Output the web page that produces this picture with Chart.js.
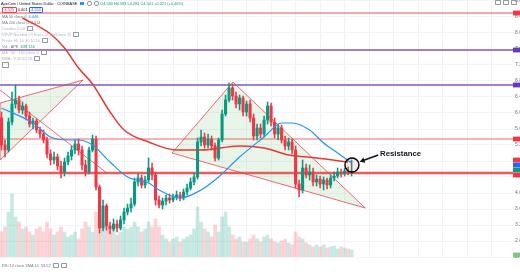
<!DOCTYPE html>
<html><head><meta charset="utf-8">
<script src="https://cdn.jsdelivr.net/npm/chart.js@4.4.1/dist/chart.umd.min.js"></script>
<style>
html,body{margin:0;padding:0;background:#fff;width:520px;height:272px;overflow:hidden;}
#wrap{position:relative;width:520px;height:272px;}
canvas{position:absolute;left:0;top:0;}
.t{position:absolute;white-space:nowrap;font-family:"Liberation Sans",Arial,sans-serif;font-size:3.9px;line-height:5px;color:#787b86;}
.lt{color:#b2b5be;}
.ic{display:inline-block;width:4px;height:3px;border:0.6px solid #9598a1;border-radius:0.8px;margin-left:2px;vertical-align:middle;}
.bx{display:inline-block;border:0.6px solid;border-radius:1px;padding:0 1.5px;line-height:4.6px;}
</style></head><body>
<div id="wrap">
<canvas id="c" width="520" height="272"></canvas>
<div class="t" style="left:1px;top:0.5px;color:#131722;">ApeCoin / United States Dollar · COINBASE <span style="display:inline-block;width:3.5px;height:3.5px;background:#2196f3;margin-left:2px;vertical-align:middle"></span> <span class="ic" style="width:3px;border-radius:2px"></span><span class="ic" style="width:3px;border-radius:2px"></span> <span style="color:#089981">O4.530 H4.583 L4.281 C4.501 +0.021 (+0.46%)</span></div>
<div class="t" style="left:2px;top:6.5px;"><span class="bx" style="border-color:#f23645;color:#f23645">4.525</span> <span style="color:#131722">0.001</span> <span class="bx" style="border-color:#2962ff;color:#2962ff">4.550</span></div>
<div class="t" style="left:2px;top:13.5px;">MA 50 close 0 &nbsp;<span style="color:#2196f3">4.448</span></div>
<div class="t" style="left:2px;top:19.8px;">MA 200 close 0 &nbsp;<span style="color:#f23645">4.514</span></div>
<div class="t lt" style="left:2px;top:25.8px;">Candles 0.03<span class="ic"></span></div>
<div class="t lt" style="left:2px;top:31.8px;">VRVP Number Of Rows 24 Up/Down 70<span class="ic"></span></div>
<div class="t lt" style="left:2px;top:37.5px;">Pivots HL 10 10 10 10<span class="ic"></span></div>
<div class="t" style="left:2px;top:43.5px;">Vol · APE &nbsp;<span style="color:#089981">439.724</span></div>
<div class="t lt" style="left:2px;top:49.8px;">MA · 50 · 100 close 0<span class="ic"></span></div>
<div class="t lt" style="left:2px;top:55.8px;">EMAs 9 26 52 26<span class="ic"></span></div>
<div class="t" style="left:2px;top:62px;"><span class="ic" style="margin-left:0;width:5px;height:4px"></span></div>
<div class="t" style="left:2px;top:263px;">RSI 14 close SMA 14 &nbsp;<span style="color:#7e57c2">53.52</span><span class="ic"></span><span class="ic"></span></div>
<div class="t" style="left:495px;top:0px;color:#9598a1;"><span class="ic" style="margin-left:0"></span><span class="ic"></span><span class="ic"></span></div>
<div class="t" style="left:380px;top:148.5px;font-size:7.8px;line-height:9px;font-weight:bold;color:#131722;">Resistance</div>
</div>
<script>
// ---- data (daily candles, APE/USD) ----
const opens = [5.875,5.20,5.075,5.775,6.225,6.325,6.075,6.175,5.925,5.725,
5.80,5.575,5.475,5.325,4.975,4.825,4.90,4.675,4.525,4.775,
4.925,5.075,5.225,5.075,4.70,4.525,5.075,5.35,4.15,3.125,
3.675,3.175,3.10,3.225,3.125,3.325,3.525,3.625,3.725,4.275,
4.375,4.20,4.325,4.625,4.45,3.825,3.70,3.80,3.875,3.825,
3.90,3.95,3.875,4.025,4.125,4.275,4.40,5.275,5.40,5.20,
5.35,5.175,4.875,5.325,5.975,6.325,6.625,6.425,6.225,6.375,
6.025,6.225,5.875,5.425,5.625,5.475,5.825,6.175,5.775,5.475,
5.625,5.325,5.175,5.275,5.075,4.225,4.075,4.625,4.45,4.525,
4.275,4.35,4.225,4.325,4.20,4.375,4.425,4.525,4.475,4.55,
4.50];
const highs = [6.025,5.325,5.875,6.525,6.70,6.425,6.275,6.225,6.025,5.875,
5.85,5.65,5.575,5.40,5.075,5.025,4.975,4.80,4.875,5.025,
5.175,5.325,5.35,5.175,4.825,5.15,5.45,5.425,4.20,3.825,
3.725,3.275,3.35,3.325,3.425,3.625,3.725,3.875,4.375,4.475,
4.45,4.425,4.875,4.75,4.525,3.925,3.875,3.95,3.975,3.975,
4.05,4.025,4.10,4.225,4.375,4.50,5.375,5.575,5.50,5.475,
5.425,5.25,5.375,6.075,6.45,6.75,6.725,6.525,6.45,6.425,
6.30,6.325,5.975,5.725,5.725,5.925,6.275,6.25,5.875,5.725,
5.70,5.425,5.375,5.35,5.175,4.325,4.825,4.725,4.70,4.625,
4.45,4.425,4.40,4.375,4.45,4.525,4.625,4.60,4.625,4.65,
4.825];
const lows = [5.075,4.90,5.025,5.70,6.125,6.00,5.975,5.825,5.65,5.60,
5.50,5.375,5.25,4.875,4.70,4.725,4.575,4.375,4.425,4.70,
4.825,4.975,4.95,4.575,4.425,4.475,5.025,4.075,3.00,3.05,
3.075,2.975,3.05,3.025,3.075,3.225,3.45,3.525,3.675,4.175,
4.125,4.125,4.275,4.325,3.70,3.625,3.60,3.70,3.75,3.775,
3.825,3.80,3.825,3.95,4.075,4.20,4.35,5.175,5.125,5.125,
5.075,4.80,4.825,5.275,5.925,6.275,6.325,6.125,6.075,5.925,
5.925,5.775,5.325,5.325,5.375,5.40,5.725,5.675,5.375,5.325,
5.25,5.075,5.075,4.975,4.125,3.90,4.00,4.375,4.325,4.175,
4.175,4.125,4.075,4.10,4.125,4.30,4.375,4.40,4.425,4.45,
4.425];
const closes = [5.20,5.075,5.775,6.225,6.325,6.075,6.175,5.925,5.725,5.80,
5.575,5.475,5.325,4.975,4.825,4.90,4.675,4.525,4.775,4.925,
5.075,5.225,5.075,4.70,4.525,5.075,5.35,4.15,3.125,3.675,
3.175,3.10,3.225,3.125,3.325,3.525,3.625,3.725,4.275,4.375,
4.20,4.325,4.625,4.45,3.825,3.70,3.80,3.875,3.825,3.90,
3.95,3.875,4.025,4.125,4.275,4.40,5.275,5.40,5.20,5.35,
5.175,4.875,5.325,5.975,6.325,6.625,6.425,6.225,6.375,6.025,
6.225,5.875,5.425,5.625,5.475,5.825,6.175,5.775,5.475,5.625,
5.325,5.175,5.275,5.075,4.225,4.075,4.625,4.45,4.525,4.275,
4.35,4.225,4.325,4.20,4.375,4.425,4.525,4.475,4.55,4.50,
4.525];
const volumesK = [1250,1500,2250,3150,2000,1750,1400,1500,1250,1100,
1400,1500,1250,1750,1400,1100,1250,1500,1250,1000,
1100,1250,900,1400,1750,1500,1250,2250,2000,1750,
1500,1250,1400,1100,1250,1500,1400,1500,1750,1500,
1250,1400,1750,1500,1900,1500,1100,900,750,900,
1000,750,900,1000,1100,1400,2500,1750,1400,1250,
1000,1600,1250,2000,2250,1500,1100,900,1000,750,
750,900,1100,900,750,1000,1100,900,750,700,
800,900,700,600,1250,1000,900,700,600,500,
600,500,600,450,500,550,400,500,450,400,
350];
// moving averages read at anchor days [dayIndex, value]
const ma50 = [[0,6.125],[9,5.75],[14,5.40],[19,5.325],[22,5.325],[26,5.20],[31,4.775],[36,4.40],[42,4.25],[45,4.075],[51,3.875],[57,4.075],[62,4.40],[68,4.90],[75,5.40],[80,5.75],[83,5.75],[88,5.575],[92,5.25],[96,5.00],[100,4.75]];
const ma200 = [[6,8.375],[14,7.975],[18,7.625],[22,7.125],[26,6.725],[28,6.45],[31,6.025],[35,5.575],[42,5.275],[50,5.075],[57,5.075],[68,5.175],[75,5.125],[82,4.95],[90,4.875],[99,4.775]];
// RSI pane (only its top edge is visible)
const rsi = [[54,62],[55,70],[56,78.5],[57,76],[58,74.5],[59,78],[60,73],[61,65],[62,70],[63,73],[64,75.5],[65,76],[66,72],[67,66]];
// horizontal levels
const levels = [8.50, 7.575, 6.70, 5.35, 4.50];
// drawn patterns [dayIndex, price]
const leftTriangle = [[-0.43,6.25],[23.3,6.825],[-0.43,4.825],[-0.43,6.25]];
const trendLine = [[-0.43,6.575],[30.1,4.50]];
const bigTriangle = [[48.7,5.00],[66.1,6.775],[103.9,3.625],[48.7,5.00]];
const resistancePoint = [100.1, 4.70];
const arrowFrom = [107.6, 4.95];
const arrowTo = [102.3, 4.78];
const axisTags = [8.50, 7.575, 6.70, 5.35, 4.825, 4.70, 4.575, 4.45, 2.45];

const X_MIN = -0.43, X_MAX = 146.1;
const UP = '#089981', DN = '#f23645';
const days = opens.map((_, i) => i);
const isUp = days.map(i => closes[i] >= opens[i]);
const pts = arr => arr.map(p => ({x: p[0], y: p[1]}));

const datasets = [];
datasets.push({type:'bar', label:'Vol', yAxisID:'v', order:20, grouped:false, barThickness:3,
  data: days.map(i => ({x:i, y:volumesK[i]})),
  backgroundColor: days.map(i => isUp[i] ? 'rgba(8,153,129,0.22)' : 'rgba(242,54,69,0.22)')});
const levelColors = ['#f28b8b','#7e57c2','#7e57c2','#f06a6a','#f05a5a'];
const levelWidths = [1.4,1.4,1.4,1.2,2.4];
levels.forEach((L, k) => datasets.push({type:'line', order:15, data:[{x:X_MIN,y:L},{x:X_MAX,y:L}],
  borderColor: levelColors[k], borderWidth: levelWidths[k], pointRadius:0}));
[leftTriangle, bigTriangle].forEach(tri => datasets.push({type:'line', order:12, data: pts(tri),
  borderColor:'rgba(242,54,69,0.75)', borderWidth:1, pointRadius:0, fill:'shape', backgroundColor:'rgba(76,175,80,0.13)', tension:0}));
datasets.push({type:'line', order:12, data: pts(trendLine), borderColor:'rgba(242,54,69,0.75)', borderWidth:1, pointRadius:0});
datasets.push({type:'bar', order:6, grouped:false, barThickness:0.9,
  data: days.map(i => ({x:i, y:[lows[i], highs[i]]})),
  backgroundColor: days.map(i => isUp[i] ? UP : DN)});
datasets.push({type:'bar', order:5, grouped:false, barThickness:2.4, minBarLength:1,
  data: days.map(i => ({x:i, y:[opens[i], closes[i]]})),
  backgroundColor: days.map(i => isUp[i] ? UP : DN)});
datasets.push({type:'line', order:3, data: pts(ma50), borderColor:'#2196f3', borderWidth:1.2, pointRadius:0, cubicInterpolationMode:'monotone'});
datasets.push({type:'line', order:3, data: pts(ma200), borderColor:'#e53935', borderWidth:1.5, pointRadius:0, cubicInterpolationMode:'monotone'});
datasets.push({type:'line', order:2, yAxisID:'r', clip:false, data: pts(rsi), borderColor:'#7e57c2', borderWidth:1, pointRadius:0, tension:0.3});
datasets.push({type:'line', order:1, showLine:false, data:[{x:resistancePoint[0], y:resistancePoint[1]}],
  pointRadius:7, pointBorderColor:'#000', pointBorderWidth:1.4, pointBackgroundColor:'rgba(242,54,69,0.12)'});

const tagColors = ['#f23645','#673ab7','#673ab7','#f23645','#f23645','#2962ff','#089981','#f23645','#81c784'];
const overlay = {
  id:'overlay',
  afterDraw(chart){
    const {ctx, scales:{x, y}} = chart;
    ctx.save();
    const x1 = x.getPixelForValue(arrowFrom[0]), y1 = y.getPixelForValue(arrowFrom[1]);
    const x2 = x.getPixelForValue(arrowTo[0]), y2 = y.getPixelForValue(arrowTo[1]);
    const ang = Math.atan2(y2-y1, x2-x1);
    ctx.strokeStyle = '#131722'; ctx.fillStyle = '#131722'; ctx.lineWidth = 1.6;
    ctx.beginPath(); ctx.moveTo(x1,y1); ctx.lineTo(x2 - 3*Math.cos(ang), y2 - 3*Math.sin(ang)); ctx.stroke();
    ctx.beginPath(); ctx.moveTo(x2,y2);
    ctx.lineTo(x2 - 5*Math.cos(ang) + 2.8*Math.sin(ang), y2 - 5*Math.sin(ang) - 2.8*Math.cos(ang));
    ctx.lineTo(x2 - 5*Math.cos(ang) - 2.8*Math.sin(ang), y2 - 5*Math.sin(ang) + 2.8*Math.cos(ang));
    ctx.closePath(); ctx.fill();
    axisTags.forEach((v, k) => {
      const py = y.getPixelForValue(v);
      ctx.fillStyle = tagColors[k];
      ctx.fillRect(chart.chartArea.right, py - 2.4, 8, 4.8);
    });
    ctx.restore();
  }
};

new Chart(document.getElementById('c'), {
  type:'bar',
  data:{datasets},
  plugins:[overlay],
  options:{
    responsive:false, animation:false, devicePixelRatio:1,
    layout:{autoPadding:false, padding:{left:0,right:0,top:0,bottom:15}},
    plugins:{legend:{display:false}, tooltip:{enabled:false}},
    scales:{
      x:{type:'linear', min:X_MIN, max:X_MAX, offset:false, bounds:'data',
        ticks:{display:false}, grid:{color:'#f1f2f5', drawTicks:false}, border:{display:false},
        afterBuildTicks(s){ const t=[]; for(let v=3.5; v<X_MAX; v+=7) t.push({value:v}); s.ticks=t; }},
      y:{position:'right', min:2.4, max:8.825, bounds:'data',
        ticks:{stepSize:0.2, includeBounds:false, padding:2, color:'#6a6d78', font:{size:5, family:'Liberation Sans'},
          callback:v => Number(v).toFixed(3)},
        grid:{color:'#f3f4f7', drawTicks:false}, border:{display:false},
        afterFit(s){ s.width = 7; s.paddingTop = 0; s.paddingBottom = 0; }},
      v:{display:false, min:0, max:12850, bounds:'data'},
      r:{display:false, min:86.67, max:300.83, bounds:'data'}
    }
  }
});
</script>
</body></html>
